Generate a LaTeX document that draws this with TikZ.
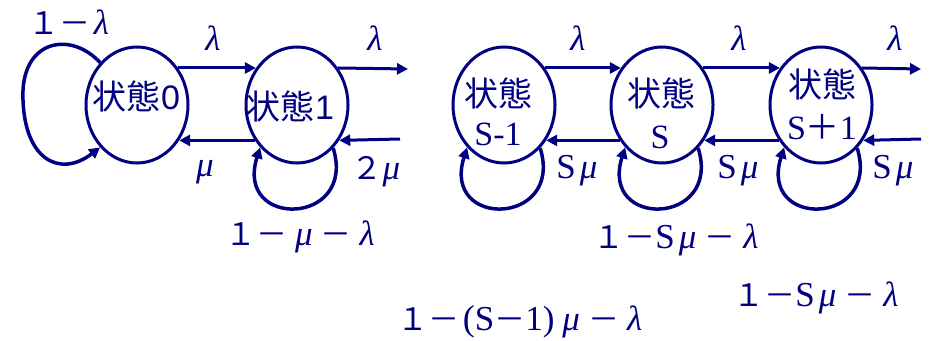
\documentclass[tikz,border=0pt]{standalone}
\usepackage{fontspec}
\setmainfont{Liberation Sans}
\newfontfamily\cjk{Noto Sans CJK JP}
\newfontfamily\ser{Liberation Serif}
\usetikzlibrary{arrows.meta,shapes.geometric}
\definecolor{navy}{RGB}{0,0,128}
\newcommand\lam{{\ser\itshape\fontsize{35}{36}\selectfont λ}}
\newcommand\mmu{{\ser\itshape\fontsize{35}{36}\selectfont μ}}
\newcommand\dsh{{\cjk －}}
\newcommand\one{{\cjk １}}
\newcommand\two{{\cjk ２}}
\newcommand\ess{{\ser\fontsize{35}{36}\selectfont S}}
\newcommand\gp{\hspace{8pt}}
\begin{document}
\begin{tikzpicture}[x=1pt,y=-1pt,
  state/.style={draw=navy,line width=3pt,ellipse,minimum width=102pt,minimum height=116pt,inner sep=0pt},
  arr/.style={draw=navy,line width=3pt,-{Triangle[length=11pt,width=11pt]}},
  loopa/.style={draw=navy,line width=3.5pt,-{Triangle[length=11pt,width=11pt]}},
  lbl/.style={text=navy,inner sep=0pt,font=\fontsize{31}{33}\selectfont},
  stxt/.style={text=navy,inner sep=0pt,font=\fontsize{34}{36}\selectfont}]
\useasboundingbox (0,0) rectangle (933,340);
% states
\node[state] (s0) at (137,105) {};
\node[state] (s1) at (297,105) {};
\node[state] (sa) at (504,105) {};
\node[state] (sb) at (662,105) {};
\node[state] (sc) at (821,105) {};
% state texts
\node[stxt] (t0) at (136,96) {{\cjk 状態}\hspace{1pt}0};
\node[stxt] (t1) at (290,106) {{\cjk 状態}\hspace{1pt}1};
\node[stxt] (ta1) at (498,93) {\cjk 状態};
\node[stxt] (ta2) at (498,134) {\ser S-1};
\node[stxt] (tb1) at (661,93) {\cjk 状態};
\node[stxt] (tb2) at (660,137) {\ser S};
\node[stxt] (tc1) at (822,84) {\cjk 状態};
\node[stxt] (tc2) at (822,127) {{\ser S}{\cjk ＋}{\ser 1}};
% free ends
\coordinate (o1) at (408,69);
\coordinate (i1) at (400,139);
\coordinate (o2) at (921,69);
\coordinate (i2) at (921,139);
% forward arrows
\draw[arr] (s0.42) -- (s1.138);
\draw[arr] (s1.42) -- (o1);
\draw[arr] (sa.42) -- (sb.138);
\draw[arr] (sb.42) -- (sc.138);
\draw[arr] (sc.42) -- (o2);
% backward arrows
\draw[arr] (s1.-140) -- (s0.-40);
\draw[arr] (i1) -- (s1.-40);
\draw[arr] (sb.-140) -- (sa.-40);
\draw[arr] (sc.-140) -- (sb.-40);
\draw[arr] (i2) -- (sc.-40);
% self loops
\draw[loopa] (s0.131) .. controls (70,30) and (20,40) .. (23,100) .. controls (25,160) and (60,178) .. (s0.229);
\draw[loopa] (s1.-50) .. controls +(24,78) and +(-26,82) .. (s1.229);
\draw[loopa] (sa.-50) .. controls +(24,78) and +(-26,82) .. (sa.229);
\draw[loopa] (sb.-50) .. controls +(24,78) and +(-26,82) .. (sb.229);
\draw[loopa] (sc.-50) .. controls +(24,78) and +(-26,82) .. (sc.229);
% labels
\node[lbl] (l0) at (69,22) {\one\dsh\hspace{3pt}\lam};
\node[lbl] (l1) at (213,38) {\lam};
\node[lbl] (l2) at (375,38) {\lam};
\node[lbl] (l3) at (205,172) {\mmu};
\node[lbl] (l4) at (376,172) {\two\mmu};
\node[lbl] (l5) at (300,237) {\one\dsh\gp\mmu\gp\dsh\gp\lam};
\node[lbl] (l6) at (578,38) {\lam};
\node[lbl] (l7) at (739,38) {\lam};
\node[lbl] (l8) at (895,38) {\lam};
\node[lbl] (l9) at (577,171) {\ess\hspace{4pt}\mmu};
\node[lbl] (l10) at (738,171) {\ess\hspace{4pt}\mmu};
\node[lbl] (l11) at (893,171) {\ess\hspace{4pt}\mmu};
\node[lbl] (l12) at (676,240) {\one\dsh\ess\hspace{4pt}\mmu\gp\dsh\gp\lam};
\node[lbl] (l13) at (816,298) {\one\dsh\ess\hspace{4pt}\mmu\gp\dsh\gp\lam};
\node[lbl] (l14) at (520,322) {\one\dsh{\ser\fontsize{36}{36}\selectfont\hspace{3pt}(}\ess\dsh{\ser\fontsize{35}{36}\selectfont 1)}\gp\mmu\gp\dsh\gp\lam};
\end{tikzpicture}
\end{document}
